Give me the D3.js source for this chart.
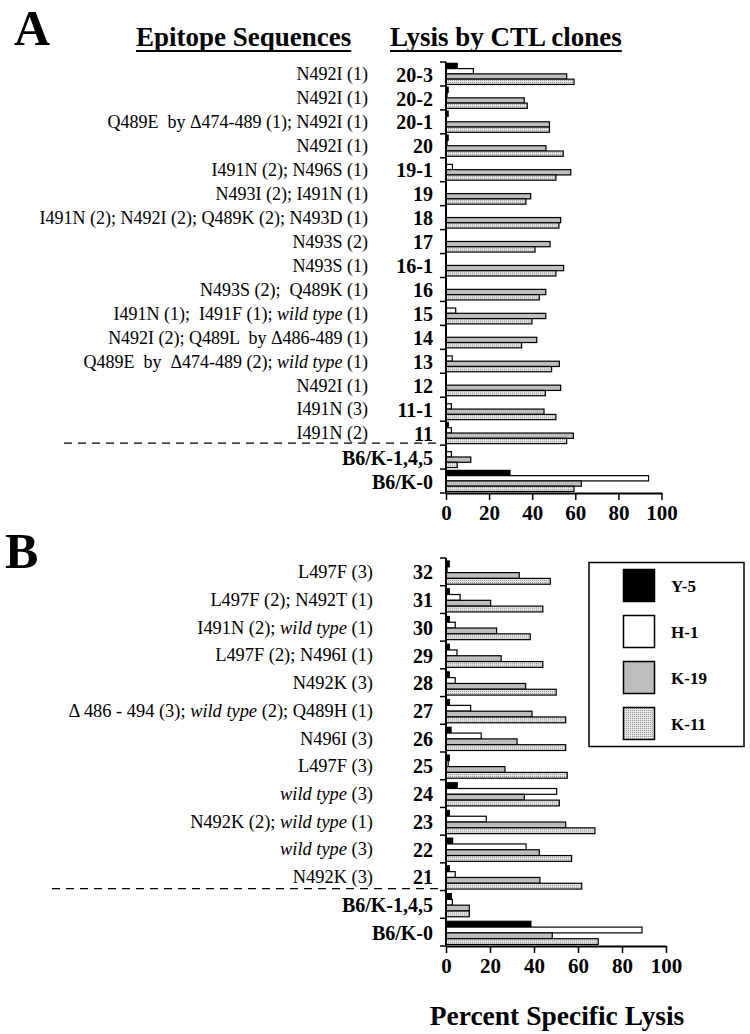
<!DOCTYPE html>
<html><head><meta charset="utf-8">
<script src="https://cdn.jsdelivr.net/npm/d3@7"></script>
<style>
html,body{margin:0;padding:0;background:#fff;}
svg{display:block;}
text{font-family:"Liberation Serif","Times New Roman",serif;white-space:pre;}
</style></head>
<body>
<svg id="chart" width="750" height="1034"></svg>
<script>
// ---------- DATA ----------
const seriesNames = ["Y-5","H-1","K-19","K-11"];

const categoriesA = ["20-3","20-2","20-1","20","19-1","19","18","17","16-1","16","15","14","13","12","11-1","11","B6/K-1,4,5","B6/K-0"];
const epitopesA = ["N492I (1)","N492I (1)","Q489E  by \u0394474-489 (1); N492I (1)","N492I (1)","I491N (2); N496S (1)","N493I (2); I491N (1)","I491N (2); N492I (2); Q489K (2); N493D (1)","N493S (2)","N493S (1)","N493S (2);  Q489K (1)","I491N (1);  I491F (1); *wild type* (1)","N492I (2); Q489L  by \u0394486-489 (1)","Q489E  by  \u0394474-489 (2); *wild type* (1)","N492I (1)","I491N (3)","I491N (2)","",""];
const y5A  = [5.2, 1, 1, 1, 0, 0, 0, 0, 0, 0, 0, 0, 0, 0, 0, 1.1, 0, 29.7];
const h1A  = [12.7, 0.5, 0, 0.5, 3, 0, 0, 0, 0, 0, 4.5, 0, 2.9, 0, 2.5, 2.5, 2.5, 94];
const k19A = [56, 36.3, 48, 46.4, 57.9, 39.3, 53.2, 48.3, 54.6, 46.3, 46.3, 42.1, 52.6, 53.2, 45.5, 59.1, 11.5, 62.8];
const k11A = [59.4, 37.7, 48, 54.4, 51, 37.1, 52.4, 41.3, 51, 43.3, 39.9, 35.1, 49, 46.1, 51, 56, 5.2, 59.4];

const categoriesB = ["32","31","30","29","28","27","26","25","24","23","22","21","B6/K-1,4,5","B6/K-0"];
const epitopesB = ["L497F (3)","L497F (2); N492T (1)","I491N (2); *wild type* (1)","L497F (2); N496I (1)","N492K (3)","\u0394 486 - 494 (3); *wild type* (2); Q489H (1)","N496I (3)","L497F (3)","*wild type* (3)","N492K (2); *wild type* (1)","*wild type* (3)","N492K (3)","",""];
const y5B  = [1.5, 1.5, 1.5, 1.5, 1.5, 1.5, 2.3, 1.5, 5.1, 1.5, 3, 1.5, 2.4, 38.6];
const h1B  = [0.5, 6.4, 4.2, 5, 4.2, 11.2, 16, 1, 50.3, 18.3, 36.4, 4.2, 2.9, 89.1];
const k19B = [33.3, 20.3, 23, 25.1, 36.2, 39.1, 32.3, 26.8, 35.6, 54.4, 42.4, 42.7, 10.6, 48.3];
const k11B = [47.4, 44, 38.3, 44, 50.1, 54.4, 54.4, 55.1, 51.5, 67.7, 57.1, 61.7, 10.6, 69.2];

const xTicks = [0, 20, 40, 60, 80, 100];
const dividerAfter = "11";   // dashed line under this category (A)
const dividerAfterB = "21";

// ---------- DRAW ----------
const svg = d3.select("#chart");
const defs = svg.append("defs");
const pat = defs.append("pattern").attr("id","stip").attr("patternUnits","userSpaceOnUse")
  .attr("width",2).attr("height",2);
pat.append("rect").attr("width",2).attr("height",2).attr("fill","#e4e4e4");
pat.append("rect").attr("width",1).attr("height",1).attr("fill","#9a9a9a");

const fills = {"Y-5":"#000","H-1":"#fff","K-19":"#bdbdbd","K-11":"url(#stip)"};

function writeRich(sel, str){
  const parts = str.split("*");
  parts.forEach((p,i)=>{
    if(!p) return;
    sel.append("tspan").attr("font-style", i%2===1 ? "italic" : "normal").text(p);
  });
}

function panel(opts){
  const {cats, eps, vals, top, bottom, x0, x1, epX, catX, epSize, divider, dashX0, barPad} = opts;
  const g = svg.append("g");
  const y = d3.scaleBand().domain(cats).range([top, bottom]);
  const x = d3.scaleLinear().domain([0,100]).range([x0, x1]);
  const ys = d3.scaleBand().domain(seriesNames).range([barPad[0], y.bandwidth()-barPad[1]]);

  const rows = cats.map((c,i)=>({c, v: seriesNames.map((s,j)=>({s, v: vals[j][i]}))}));
  const rg = g.selectAll("g.row").data(rows).join("g").attr("transform",d=>`translate(0,${y(d.c)})`);
  rg.selectAll("rect").data(d=>d.v).join("rect")
    .attr("x", x(0)).attr("y", d=>ys(d.s))
    .attr("width", d=>Math.max(0, x(d.v)-x(0))).attr("height", ys.bandwidth())
    .attr("fill", d=>fills[d.s]).attr("stroke","#000").attr("stroke-width",1.2);

  // y axis: line + ticks at band boundaries
  g.append("line").attr("x1",x0).attr("x2",x0).attr("y1",top).attr("y2",bottom)
    .attr("stroke","#000").attr("stroke-width",2);
  const bounds = cats.map(c=>y(c)).concat([bottom]);
  g.selectAll("line.yt").data(bounds).join("line").attr("class","yt")
    .attr("x1",x0-6).attr("x2",x0).attr("y1",d=>d).attr("y2",d=>d)
    .attr("stroke","#000").attr("stroke-width",1.5);

  // x axis
  const ax = g.append("g").attr("transform",`translate(0,${bottom})`)
    .call(d3.axisBottom(x).tickValues(xTicks).tickSize(7).tickPadding(5).tickSizeOuter(0));
  ax.select(".domain").attr("stroke-width",2);
  ax.selectAll(".tick line").attr("stroke-width",1.5);
  ax.selectAll(".tick text").attr("font-family","Liberation Serif, Times New Roman, serif")
    .attr("font-size",21).attr("font-weight","bold").attr("fill","#000");

  // category labels
  g.selectAll("text.cat").data(cats).join("text").attr("class","cat")
    .attr("x",catX).attr("y",d=>y(d)+y.bandwidth()/2).attr("dy","0.38em")
    .attr("text-anchor","end").attr("font-size",20).attr("font-weight","bold").text(d=>d);
  // epitope labels
  g.selectAll("text.ep").data(cats.map((c,i)=>({c,e:eps[i]}))).join("text").attr("class","ep")
    .attr("x",epX).attr("y",d=>y(d.c)+y.bandwidth()/2).attr("dy","0.35em")
    .attr("text-anchor","end").attr("font-size",epSize)
    .each(function(d){ writeRich(d3.select(this), d.e); });

  // dashed divider
  const dy = y(divider)+y.bandwidth()-2;
  g.append("line").attr("x1",dashX0).attr("x2",x0-6).attr("y1",dy).attr("y2",dy)
    .attr("stroke","#000").attr("stroke-width",1.3).attr("stroke-dasharray","8,6");
  return g;
}

panel({cats:categoriesA, eps:epitopesA, vals:[y5A,h1A,k19A,k11A], top:62, bottom:493,
  x0:446, x1:661.5, epX:368, catX:433, epSize:18, divider:dividerAfter, dashX0:64, barPad:[1.3,1.5]});
panel({cats:categoriesB, eps:epitopesB, vals:[y5B,h1B,k19B,k11B], top:558, bottom:946,
  x0:446, x1:666, epX:373, catX:433, epSize:18.4, divider:dividerAfterB, dashX0:52, barPad:[3,1.5]});

// panel letters
svg.append("text").attr("x",14).attr("y",45).attr("font-size",50).attr("font-weight","bold").text("A");
svg.append("text").attr("x",5).attr("y",568).attr("font-size",50).attr("font-weight","bold").text("B");

// headers with underline
function header(txt, x, yb){
  const t = svg.append("text").attr("x",x).attr("y",yb).attr("font-size",27).attr("font-weight","bold").text(txt);
  const w = t.node().getComputedTextLength();
  svg.append("line").attr("x1",x).attr("x2",x+w).attr("y1",yb+5).attr("y2",yb+5).attr("stroke","#000").attr("stroke-width",2);
}
header("Epitope Sequences", 136, 46);
header("Lysis by CTL clones", 390, 46);

// legend
const lg = svg.append("g");
lg.append("rect").attr("x",589).attr("y",562.5).attr("width",155).attr("height",184)
  .attr("fill","#fff").attr("stroke","#000").attr("stroke-width",1.5);
const ly = d3.scalePoint().domain(seriesNames).range([585.5, 723.5]);
seriesNames.forEach(s=>{
  lg.append("rect").attr("x",623.5).attr("y",ly(s)-16).attr("width",31).attr("height",32)
    .attr("fill",fills[s]).attr("stroke","#000").attr("stroke-width",1.5);
  lg.append("text").attr("x",671).attr("y",ly(s)).attr("dy","0.36em").attr("font-size",17)
    .attr("font-weight","bold").text(s);
});

// x title
svg.append("text").attr("x",557).attr("y",1025).attr("text-anchor","middle").attr("font-size",27.5)
  .attr("font-weight","bold").text("Percent Specific Lysis");
</script>
</body></html>
